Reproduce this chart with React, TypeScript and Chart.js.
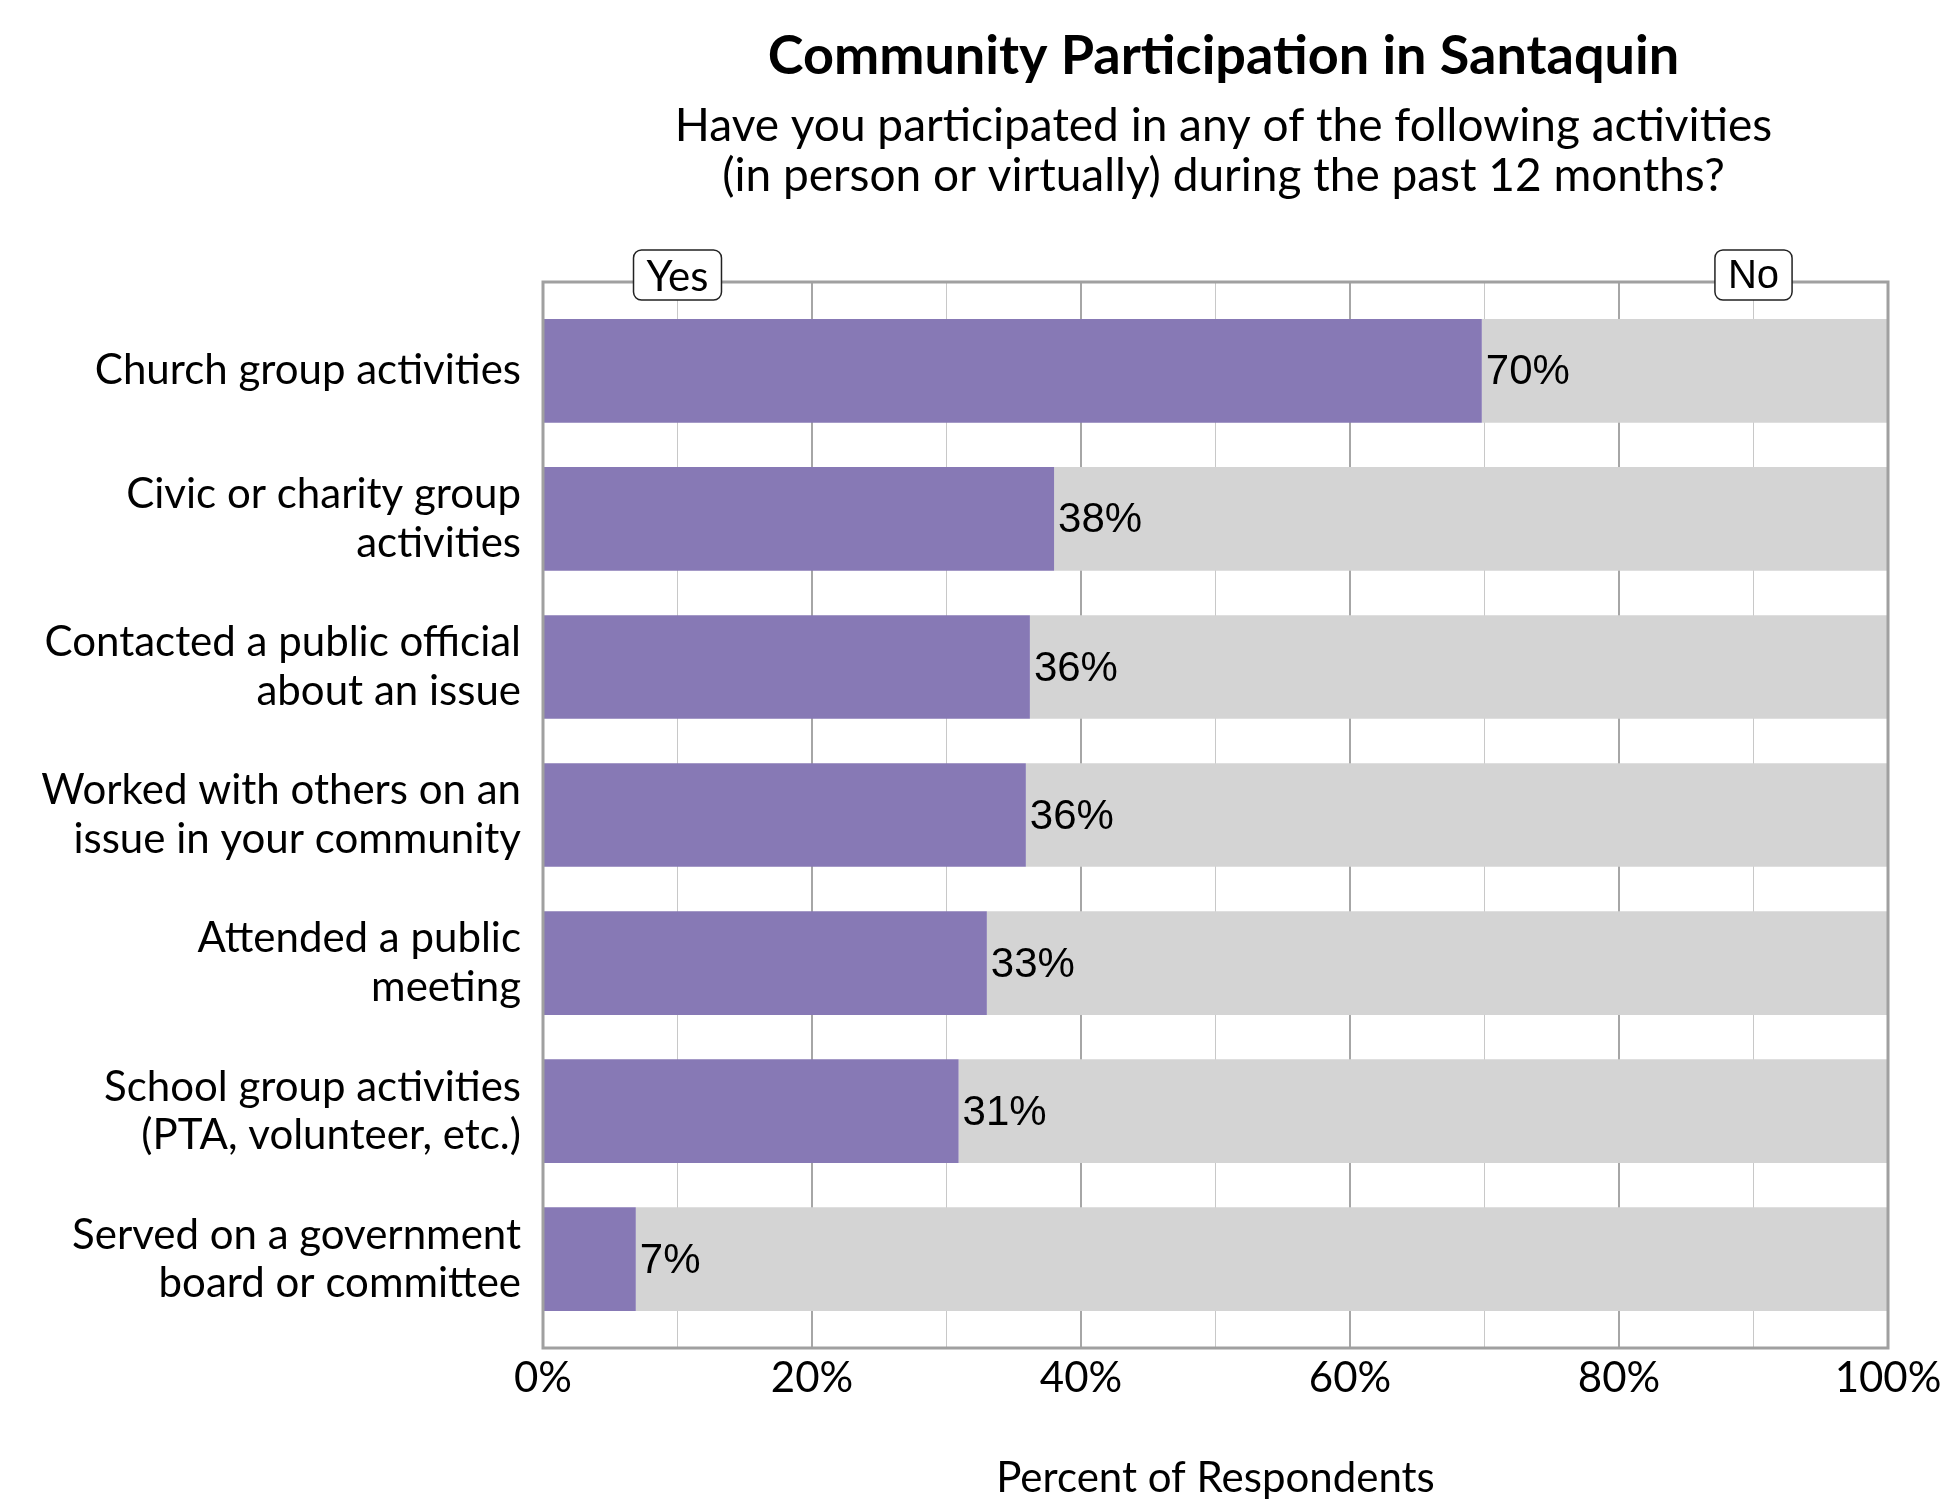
import { useEffect, useRef } from 'react';
import { Chart, registerables } from 'chart.js';

Chart.register(...registerables);

const TITLE = 'Community Participation in Santaquin';
const SUBTITLE = [
  'Have you participated in any of the following activities',
  '(in person or virtually) during the past 12 months?',
];
const CATEGORIES: string[][] = [
  ['Church group activities'],
  ['Civic or charity group', 'activities'],
  ['Contacted a public official', 'about an issue'],
  ['Worked with others on an', 'issue in your community'],
  ['Attended a public', 'meeting'],
  ['School group activities', '(PTA, volunteer, etc.)'],
  ['Served on a government', 'board or committee'],
];
const SERIES_NAMES = ['Yes', 'No'];
const SERIES_NAME_AT = [10, 90];
const YES = [69.8, 38.0, 36.2, 35.9, 33.0, 30.9, 6.9];
const NO = [30.2, 62.0, 63.8, 64.1, 67.0, 69.1, 93.1];
const X_TICK_LABELS = ['0%', '20%', '40%', '60%', '80%', '100%'];
const X_TITLE = 'Percent of Respondents';

const FONT = 'Lato';
const DATA_FONT = '"Liberation Sans"';
const PURPLE = '#8779B5';
const GRAY = '#D4D4D4';
const FRAME = '#A0A0A0';

const decor = {
  id: 'decor',
  beforeDraw(chart: any) {
    const { ctx, width, height } = chart;
    ctx.save();
    ctx.fillStyle = '#ffffff';
    ctx.fillRect(0, 0, width, height);
    ctx.restore();
  },
  afterDatasetsDraw(chart: any) {
    const { ctx, chartArea: a, scales } = chart;
    ctx.save();
    // frame
    ctx.strokeStyle = FRAME;
    ctx.lineWidth = 3;
    ctx.strokeRect(a.left, a.top, a.right - a.left, a.bottom - a.top);
    // data labels
    ctx.fillStyle = '#000';
    ctx.textAlign = 'left';
    ctx.textBaseline = 'middle';
    ctx.font = `42px ${DATA_FONT}`;
    const meta = chart.getDatasetMeta(0);
    meta.data.forEach((bar: any, i: number) => {
      ctx.fillText(Math.round(YES[i]) + '%', bar.x + 4, bar.y + 2);
    });
    // series name boxes
    SERIES_NAMES.forEach((name, i) => {
      ctx.font = i === 0 ? `42px ${FONT}` : `40px ${DATA_FONT}`;
      const w = ctx.measureText(name).width + 26;
      const h = 50;
      const cx = scales.x.getPixelForValue(SERIES_NAME_AT[i]);
      const cy = a.top - 7;
      ctx.beginPath();
      ctx.roundRect(cx - w / 2, cy - h / 2, w, h, 8);
      ctx.fillStyle = '#fff';
      ctx.fill();
      ctx.lineWidth = 1.5;
      ctx.strokeStyle = '#222';
      ctx.stroke();
      ctx.fillStyle = '#000';
      ctx.textAlign = 'center';
      ctx.textBaseline = 'middle';
      ctx.fillText(name, cx, cy + 2);
    });
    ctx.restore();
  },
  afterDraw(chart: any) {
    const { ctx, chartArea: a } = chart;
    const cx = (a.left + a.right) / 2 + 8;
    ctx.save();
    ctx.fillStyle = '#000';
    ctx.textAlign = 'center';
    ctx.textBaseline = 'middle';
    ctx.font = `bold 54px ${FONT}`;
    ctx.fillText(TITLE, cx, 57);
    ctx.font = `46px ${FONT}`;
    ctx.fillText(SUBTITLE[0], cx, 126);
    ctx.fillText(SUBTITLE[1], cx, 176);
    ctx.restore();
  },
};

export default function App() {
  const ref = useRef<HTMLCanvasElement>(null);
  useEffect(() => {
    document.body.style.margin = '0';
    const canvas = ref.current;
    if (!canvas) return;
    const chart = new Chart(canvas, {
      type: 'bar',
      data: {
        datasets: [
          {
            label: SERIES_NAMES[0],
            data: YES.map((v, i) => ({ x: v, y: i })),
            backgroundColor: PURPLE,
            borderWidth: 0,
          },
          {
            label: SERIES_NAMES[1],
            data: NO.map((v, i) => ({ x: v, y: i })),
            backgroundColor: GRAY,
            borderWidth: 0,
          },
        ],
      },
      options: {
        indexAxis: 'y',
        responsive: false,
        animation: false,
        devicePixelRatio: 1,
        categoryPercentage: 1,
        barPercentage: 0.7,
        layout: { padding: { top: 282, right: 62, bottom: 0, left: 0 } },
        plugins: {
          legend: { display: false },
          tooltip: { enabled: false },
          title: { display: false },
        },
        scales: {
          x: {
            type: 'linear',
            stacked: true,
            min: 0,
            max: 100,
            border: { display: false },
            grid: {
              drawTicks: false,
              color: (c: any) => (c.tick && c.tick.value % 20 === 0 ? '#A6A6A6' : '#C8C8C8'),
              lineWidth: (c: any) => (c.tick && c.tick.value % 20 === 0 ? 2 : 1),
            },
            ticks: {
              stepSize: 10,
              autoSkip: false,
              maxRotation: 0,
              padding: 5,
              color: '#000',
              font: { family: FONT, size: 42 },
              callback: (v: any) => (v % 20 === 0 ? X_TICK_LABELS[v / 20] : ''),
            },
            title: {
              display: true,
              text: X_TITLE,
              color: '#000',
              font: { family: FONT, size: 42 },
              padding: { top: 0, bottom: -4 },
            },
            afterFit: (s: any) => {
              s.height = 152;
            },
          },
          y: {
            type: 'linear',
            stacked: true,
            reverse: true,
            offset: false,
            min: -0.6,
            max: 6.6,
            border: { display: false },
            grid: { display: false, offset: false },
            ticks: {
              stepSize: 1,
              includeBounds: false,
              autoSkip: false,
              padding: 14,
              color: '#000',
              font: { family: FONT, size: 42, lineHeight: 1.15 },
              callback: (v: any) => (Number.isInteger(v) && CATEGORIES[v] ? CATEGORIES[v] : ''),
            },
            afterFit: (s: any) => {
              s.width = 543;
              s.paddingTop = 0;
              s.paddingBottom = 0;
            },
          },
        },
      },
      plugins: [decor],
    } as any);
    return () => chart.destroy();
  }, []);
  return (
    <div style={{ width: 1950, height: 1500 }}>
      <canvas ref={ref} width={1950} height={1500} style={{ display: 'block' }} />
    </div>
  );
}
